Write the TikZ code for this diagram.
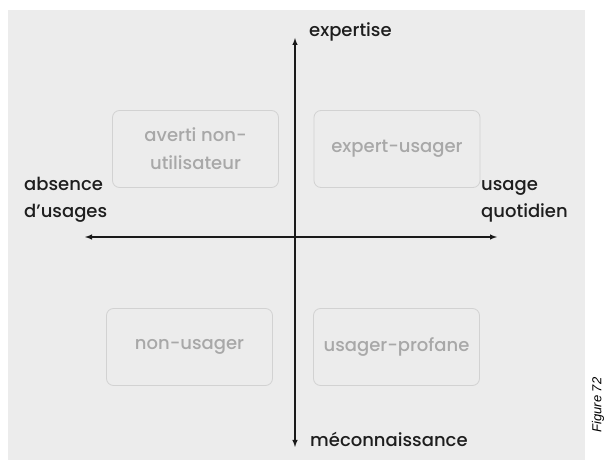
\documentclass[tikz,border=0pt]{standalone}
\usepackage{fontspec}
\setmainfont{Poppins}
\newfontfamily\medfont{Poppins Medium}
\setsansfont{Liberation Sans}
\usepackage{tikz}
\usetikzlibrary{arrows}
\definecolor{bgGray}{HTML}{ECECEC}
\definecolor{boxLine}{HTML}{D2D2D2}
\definecolor{boxText}{HTML}{A8A8A8}
\definecolor{axText}{HTML}{1E1E1E}
\tikzset{
  quadrant/.style={draw=boxLine,rounded corners=7pt,line width=0.8pt,text=boxText,
    minimum width=166pt,minimum height=77pt,align=center,
    font=\medfont\fontsize{18}{28}\selectfont},
  axlabel/.style={text=axText,inner sep=0pt,align=left,
    font=\medfont\fontsize{18}{27}\selectfont},
  axis/.style={latex-latex,line width=1.4pt,draw=black!90}
}
\begin{document}
\begin{tikzpicture}[x=1pt,y=-1pt]
\useasboundingbox (0,0) rectangle (606,465);
\fill[bgGray] (8,10) rectangle (585,460);

 \node[quadrant] (averti) at (195.5,149) {averti non-\\utilisateur};
 \node[quadrant] (expert) at (397,149) {expert-usager};
 \node[quadrant] (nonusager) at (189.5,347) {non-usager};
 \node[quadrant] (profane) at (396.5,347) {usager-profane};

\coordinate (top) at (295,38);
\coordinate (bottom) at (295,447);
\coordinate (left) at (85,237);
\coordinate (right) at (497,237);
\draw [axis] (bottom) -- (top);
\draw [axis] (left) -- (right);

 \node[axlabel,anchor=west] (expertise) at (309,32) {expertise};
 \node[axlabel,anchor=west] (mecon) at (310,439) {méconnaissance};
 \node[axlabel,anchor=base west] (absence) at (24,218) {absence\\d’usages};
 \node[axlabel,anchor=base west] (quotidien) at (481,218) {usage\\quotidien};

 \node[rotate=90,font=\sffamily\itshape\fontsize{13}{15}\selectfont] (fig) at (598,405) {Figure 72};
\end{tikzpicture}
\end{document}
